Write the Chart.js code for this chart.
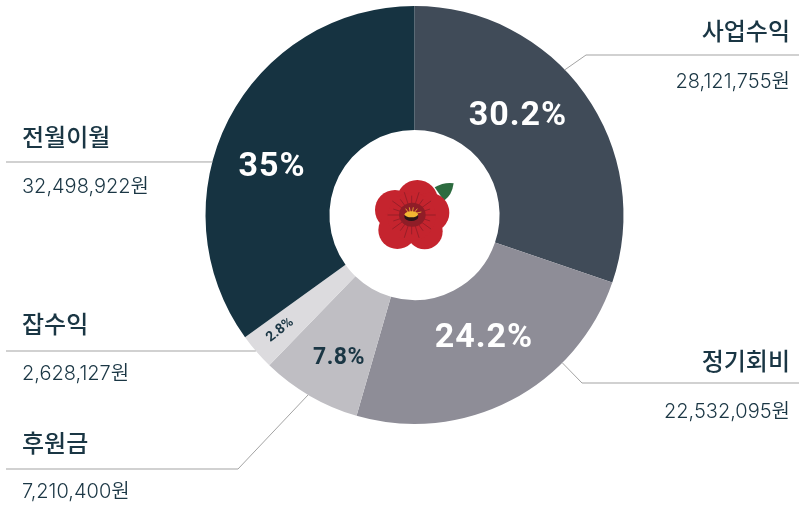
<!DOCTYPE html>
<html lang="ko">
<head>
<meta charset="utf-8">
<title>수입 구성</title>
<style>
html, body { margin: 0; padding: 0; background: #fff; }
canvas { display: block; }
</style>
</head>
<body>
<canvas id="incomeChart" width="799" height="506"></canvas>
<script src="https://cdn.jsdelivr.net/npm/chart.js@4"></script>
<script>
const categories = ['사업수익', '정기회비', '후원금', '잡수익', '전월이월'];
const amounts = [28121755, 22532095, 7210400, 2628127, 32498922];
const amount_labels = ['28,121,755원', '22,532,095원', '7,210,400원', '2,628,127원', '32,498,922원'];
const percent_labels = ['30.2%', '24.2%', '7.8%', '2.8%', '35%'];

const slice_colors = ['#404b58', '#8e8d97', '#bfbec3', '#dcdbde', '#163341'];
const text_color = '#1a3644';
const kr_font = '"Noto Sans CJK KR", "Noto Sans", sans-serif';
const value_font = 'Inter, "Noto Sans CJK KR", sans-serif';
const pct_font = 'Roboto, "DejaVu Sans", sans-serif';

// where the percent text sits, one per category
const pct_style = [
  {x: 518, y: 116, size: 34, spacing: 1, color: '#fff'},
  {x: 484, y: 338, size: 34, spacing: 1, color: '#fff'},
  {x: 339, y: 358, size: 23, spacing: 0.5, color: text_color},
  {x: 280, y: 330, size: 14, spacing: 0, color: text_color, rotate: -38},
  {x: 272, y: 167, size: 34, spacing: 1, color: '#fff'}
];

// side labels: deg = where the leader touches the ring (clockwise from top)
const side_labels = [
  {align: 'right', deg: 46, elbow: [586, 55], end: 799, titleY: 31, valueY: 82},
  {align: 'right', deg: 135, elbow: [582, 383], end: 799, titleY: 361, valueY: 412},
  {align: 'left', deg: 210.6, elbow: [238, 469], end: 6, titleY: 443, valueY: 492},
  {align: 'left', deg: 229.4, elbow: null, end: 6, lineY: 351, titleY: 324, valueY: 374},
  {align: 'left', deg: 284.7, elbow: null, end: 6, lineY: 162, titleY: 137, valueY: 187}
];

function draw_flower(ctx, cx, cy) {
  ctx.save();
  // drawn at 3x around the hole, easier to trace
  ctx.translate(cx - 74.5, cy - 65);
  ctx.scale(1 / 3, 1 / 3);

  ctx.fillStyle = '#2c6b3f';
  ctx.beginPath();
  ctx.moveTo(284, 112);
  ctx.quadraticCurveTo(312, 96, 341, 100);
  ctx.quadraticCurveTo(336, 136, 312, 152);
  ctx.closePath();
  ctx.fill();

  ctx.fillStyle = '#c5242e';
  [[232, 152, 62], [165, 180, 60], [268, 188, 60], [172, 240, 57], [254, 244, 54], [215, 200, 72]].forEach(p => {
    ctx.beginPath();
    ctx.arc(p[0], p[1], p[2], 0, Math.PI * 2);
    ctx.fill();
  });

  ctx.strokeStyle = '#8f1d27';
  ctx.lineWidth = 2.5;
  for (let i = 0; i < 20; i++) {
    const a = i / 20 * Math.PI * 2;
    const len = i % 2 ? 58 : 72;
    ctx.beginPath();
    ctx.moveTo(215 + Math.cos(a) * 30, 195 + Math.sin(a) * 30);
    ctx.lineTo(215 + Math.cos(a) * len, 195 + Math.sin(a) * len);
    ctx.stroke();
  }

  ctx.fillStyle = '#8f1d27';
  ctx.beginPath();
  ctx.ellipse(217, 194, 40, 36, 0, 0, Math.PI * 2);
  ctx.fill();

  ctx.fillStyle = '#2a1518';
  ctx.beginPath();
  ctx.ellipse(214, 200, 21, 13, 0, 0, Math.PI * 2);
  ctx.fill();
  ctx.fillStyle = '#f2b632';
  ctx.beginPath();
  ctx.ellipse(214, 193, 20, 9, 0, 0, Math.PI * 2);
  ctx.fill();

  ctx.strokeStyle = '#f2b632';
  ctx.lineWidth = 2.5;
  [[197, 176], [208, 172], [220, 172], [232, 176], [244, 186]].forEach(s => {
    ctx.beginPath();
    ctx.moveTo(214 + (s[0] - 214) * 0.4, 190);
    ctx.lineTo(s[0], s[1]);
    ctx.stroke();
  });
  ctx.restore();
}

const annotations = {
  id: 'annotations',
  afterDraw(chart) {
    const ctx = chart.ctx;
    const arc = chart.getDatasetMeta(0).data[0];
    const cx = arc.x;
    const cy = arc.y;
    const r = arc.outerRadius;

    ctx.save();

    // leader lines
    ctx.strokeStyle = '#a3a3a3';
    ctx.lineWidth = 1;
    side_labels.forEach(l => {
      const a = l.deg * Math.PI / 180;
      const sx = cx + Math.sin(a) * r;
      const sy = cy - Math.cos(a) * r;
      ctx.beginPath();
      ctx.moveTo(sx, sy);
      if (l.elbow) {
        ctx.lineTo(l.elbow[0], l.elbow[1]);
        ctx.lineTo(l.end, l.elbow[1]);
      } else {
        ctx.lineTo(l.end, l.lineY);
      }
      ctx.stroke();
    });

    // category name and amount
    ctx.fillStyle = text_color;
    ctx.textBaseline = 'middle';
    side_labels.forEach((l, i) => {
      const x = l.align === 'right' ? 790 : 22;
      ctx.textAlign = l.align;
      ctx.font = '500 24px ' + kr_font;
      ctx.fillText(categories[i], x, l.titleY);
      ctx.font = '350 20px ' + value_font;
      ctx.fillText(amount_labels[i], x, l.valueY);
    });

    // percent text on the slices
    ctx.textAlign = 'center';
    pct_style.forEach((p, i) => {
      ctx.save();
      ctx.translate(p.x, p.y);
      if (p.rotate) ctx.rotate(p.rotate * Math.PI / 180);
      ctx.font = '700 ' + p.size + 'px ' + pct_font;
      ctx.letterSpacing = p.spacing + 'px';
      ctx.fillStyle = p.color;
      ctx.fillText(percent_labels[i], 0, 0);
      ctx.restore();
    });

    ctx.restore();
    draw_flower(ctx, cx, cy);
  }
};

new Chart(document.getElementById('incomeChart').getContext('2d'), {
  type: 'doughnut',
  data: {
    labels: categories,
    datasets: [{
      data: amounts,
      backgroundColor: slice_colors,
      borderWidth: 0
    }]
  },
  options: {
    responsive: false,
    animation: false,
    cutout: '40.7%',
    layout: {padding: {left: 205.5, right: 175.5, top: 6, bottom: 82}},
    plugins: {
      legend: {display: false},
      tooltip: {enabled: false}
    }
  },
  plugins: [annotations]
});
</script>
</body>
</html>
